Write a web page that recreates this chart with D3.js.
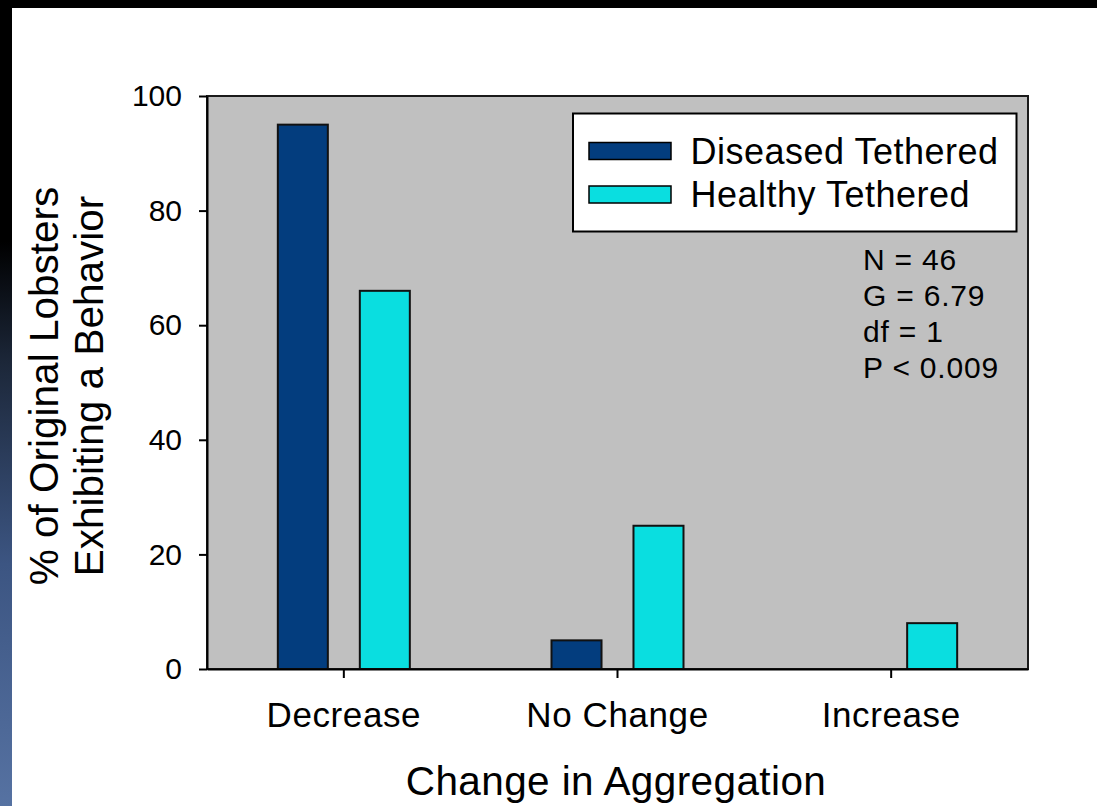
<!DOCTYPE html>
<html>
<head>
<meta charset="utf-8">
<script src="https://cdn.jsdelivr.net/npm/d3@7"></script>
<style>
  html, body { margin: 0; padding: 0; background: #000; }
  svg { display: block; }
  text { font-family: "Liberation Sans", Arial, sans-serif; fill: #000; }
</style>
</head>
<body>
<svg id="chart" width="1097" height="806"></svg>
<script>
const categories = ["Decrease", "No Change", "Increase"];
const seriesNames = ["Diseased Tethered", "Healthy Tethered"];
const diseasedValues = [95, 5, 0];
const healthyValues = [66, 25, 8];
const yTickValues = [0, 20, 40, 60, 80, 100];
const statsLines = ["N = 46", "G = 6.79", "df = 1", "P < 0.009"];
const yTitleLines = ["% of Original Lobsters", "Exhibiting a Behavior"];
const xTitle = "Change in Aggregation";

const colors = ["#033D7E", "#0ADEE0"];
const seriesValues = [diseasedValues, healthyValues];

const svg = d3.select("#chart");

// slide background
const defs = svg.append("defs");
const grad = defs.append("linearGradient").attr("id", "sideGrad")
  .attr("x1", 0).attr("y1", 0).attr("x2", 0).attr("y2", 1);
grad.append("stop").attr("offset", "0%").attr("stop-color", "#000");
grad.append("stop").attr("offset", "30%").attr("stop-color", "#000");
grad.append("stop").attr("offset", "45%").attr("stop-color", "#1c2739");
grad.append("stop").attr("offset", "70%").attr("stop-color", "#3c5582");
grad.append("stop").attr("offset", "100%").attr("stop-color", "#5672a2");
svg.append("rect").attr("x", 0).attr("y", 0).attr("width", 12).attr("height", 806).attr("fill", "url(#sideGrad)");
svg.append("rect").attr("x", 12).attr("y", 8).attr("width", 1085).attr("height", 798).attr("fill", "#fff");

const plot = { left: 207, right: 1028, top: 96, bottom: 669 };

const x = d3.scaleBand().domain(categories).range([plot.left, plot.right]).padding(0);
const half = 66;
const xSub = d3.scaleBand().domain(seriesNames)
  .range([x.bandwidth() / 2 - half, x.bandwidth() / 2 + half])
  .paddingInner(0.39).paddingOuter(0);
const y = d3.scaleLinear().domain([0, 100]).range([plot.bottom, plot.top]);

// plot background
svg.append("rect")
  .attr("x", plot.left).attr("y", plot.top)
  .attr("width", plot.right - plot.left).attr("height", plot.bottom - plot.top)
  .attr("fill", "#C0C0C0").attr("stroke", "#1a1a1a").attr("stroke-width", 2);

// bars
const rows = categories.map((c, i) => ({ cat: c, vals: seriesNames.map((s, j) => ({ s, j, v: seriesValues[j][i] })) }));
const groups = svg.append("g").selectAll("g").data(rows).join("g")
  .attr("transform", d => `translate(${x(d.cat)},0)`);
groups.selectAll("rect").data(d => d.vals.filter(v => v.v > 0)).join("rect")
  .attr("x", d => xSub(d.s))
  .attr("y", d => y(d.v))
  .attr("width", xSub.bandwidth())
  .attr("height", d => y(0) - y(d.v))
  .attr("fill", d => colors[d.j])
  .attr("stroke", "#111").attr("stroke-width", 2);

// y axis
const yAxis = svg.append("g").attr("transform", `translate(${plot.left},0)`)
  .call(d3.axisLeft(y).tickValues(yTickValues).tickSize(8).tickPadding(17).tickSizeOuter(0));
yAxis.select(".domain").attr("stroke", "#000").attr("stroke-width", 2);
yAxis.selectAll(".tick line").attr("stroke", "#000").attr("stroke-width", 2);
yAxis.selectAll(".tick text").attr("font-size", 30).attr("font-family", "Liberation Sans, Arial, sans-serif").attr("fill", "#000");

// x axis
const xAxis = svg.append("g").attr("transform", `translate(0,${plot.bottom})`)
  .call(d3.axisBottom(x).tickSize(9).tickPadding(24).tickSizeOuter(0));
xAxis.select(".domain").attr("stroke", "#000").attr("stroke-width", 2);
xAxis.selectAll(".tick line").attr("stroke", "#000").attr("stroke-width", 2);
xAxis.selectAll(".tick text").attr("font-size", 35).attr("letter-spacing", 0.6)
  .attr("font-family", "Liberation Sans, Arial, sans-serif").attr("fill", "#000");

// legend
const legend = svg.append("g");
legend.append("rect").attr("x", 573).attr("y", 113.5).attr("width", 443.5).attr("height", 118)
  .attr("fill", "#fff").attr("stroke", "#000").attr("stroke-width", 2);
const legendRows = legend.selectAll("g").data(seriesNames).join("g")
  .attr("transform", (d, i) => `translate(0,${i * 43.5})`);
legendRows.append("rect").attr("x", 589).attr("y", 142.5).attr("width", 82).attr("height", 17)
  .attr("fill", (d, i) => colors[i]).attr("stroke", "#000").attr("stroke-width", 1.5);
legendRows.append("text").attr("x", 690.5).attr("y", 163.5)
  .attr("font-size", 36).attr("letter-spacing", 0.5).text(d => d);

// stats
svg.append("g").selectAll("text").data(statsLines).join("text")
  .attr("x", 863).attr("y", (d, i) => 269.5 + i * 36.3)
  .attr("font-size", 30).attr("letter-spacing", 0.8).text(d => d);

// y title
const yt = svg.append("text").attr("transform", "translate(0,386) rotate(-90)")
  .attr("text-anchor", "middle").attr("font-size", 40.5);
yt.selectAll("tspan").data(yTitleLines).join("tspan")
  .attr("x", 0).attr("y", (d, i) => 58 + i * 45).text(d => d);

// x title
svg.append("text").attr("x", 616).attr("y", 795).attr("text-anchor", "middle")
  .attr("font-size", 40.5).attr("letter-spacing", 0.4).text(xTitle);
</script>
</body>
</html>
